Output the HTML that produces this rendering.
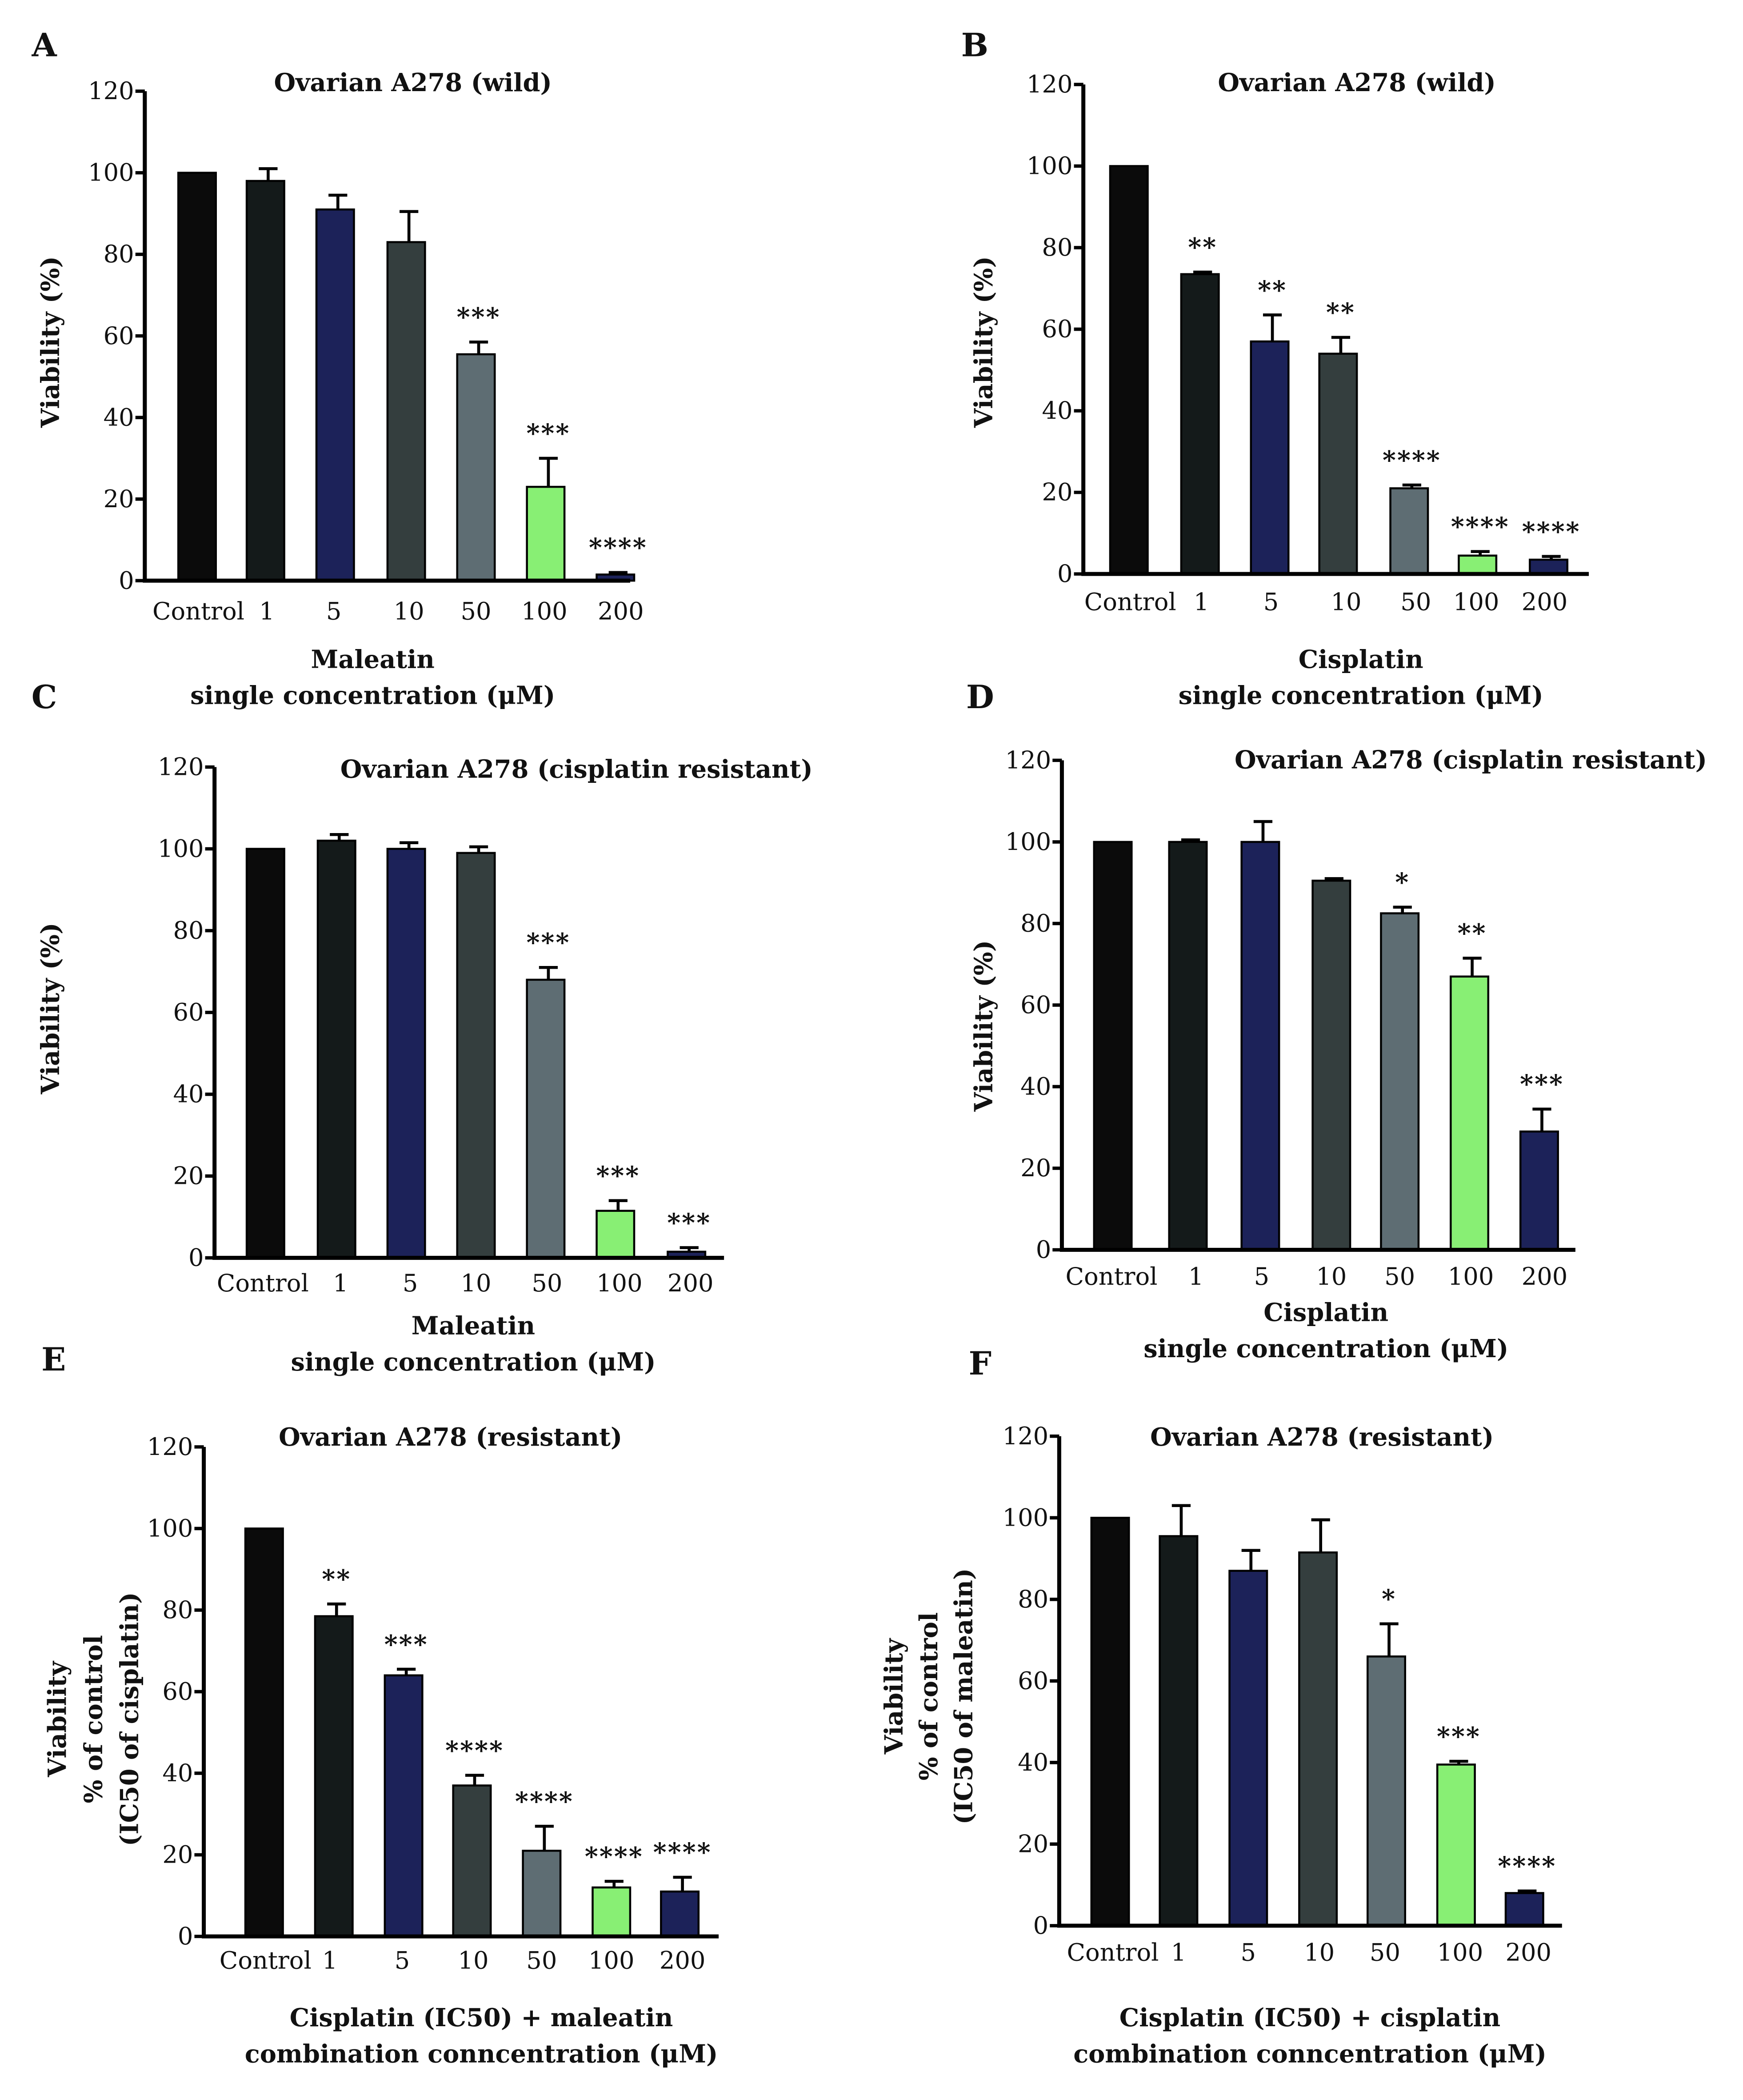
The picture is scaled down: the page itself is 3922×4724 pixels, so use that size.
<!DOCTYPE html>
<html><head><meta charset="utf-8"><style>
html,body{margin:0;padding:0;background:#fff}
svg{display:block}
text{font-family:"DejaVu Serif","Liberation Serif",serif;fill:#111}
.t{font-weight:bold;font-size:18.5px}
.tk{font-size:18px}
.lt{font-weight:bold;font-size:24px}
</style></head><body>
<svg id="fig" width="3922" height="4724" viewBox="0 0 1300 1566" preserveAspectRatio="none" xmlns="http://www.w3.org/2000/svg"></svg>
<script>
const categories=["Control","1","5","10","50","100","200"];
const colors=["#0b0b0b","#141a1a","#1c2259","#343e3e","#5e6d73","#88ef74","#1c2259"];
const valuesA=[100,98,91,83,55.5,23,1.5]; const errA=[0,3,3.5,7.5,3,7,0.5]; const starsA=["","","","","***","***","****"];
const valuesB=[100,73.5,57,54,21,4.5,3.5]; const errB=[0,0.5,6.5,4,0.8,1,0.8]; const starsB=["","**","**","**","****","****","****"];
const valuesC=[100,102,100,99,68,11.5,1.5]; const errC=[0,1.5,1.5,1.5,3,2.5,1]; const starsC=["","","","","***","***","***"];
const valuesD=[100,100,100,90.5,82.5,67,29]; const errD=[0,0.5,5,0.5,1.5,4.5,5.5]; const starsD=["","","","","*","**","***"];
const valuesE=[100,78.5,64,37,21,12,11]; const errE=[0,3,1.5,2.5,6,1.5,3.5]; const starsE=["","**","***","****","****","****","****"];
const valuesF=[100,95.5,87,91.5,66,39.5,8]; const errF=[0,7.5,5,8,8,0.8,0.5]; const starsF=["","","","","*","***","****"];
const yTicks=[0,20,40,60,80,100,120];

const NS="http://www.w3.org/2000/svg";
const svg=document.getElementById('fig');
function mk(tag,attrs,parent,txt){const e=document.createElementNS(NS,tag);for(const k in attrs)e.setAttribute(k,attrs[k]);if(txt!==undefined)e.textContent=txt;(parent||svg).appendChild(e);return e;}

const panels=[
 {id:'a',letter:'A',lx:33,ly:42,vals:valuesA,err:errA,stars:starsA,y0:433,y120:68,ax:108,axEnd:470,bx:[147,198,250,303,355,407,459],lbx:[148,199,249,305,355,406,463],lby:462,
  title:"Ovarian A278 (wild)",tx:308,ty:68,xl:["Maleatin","single concentration (μM)"],xlx:278,xly:[498,525],yl:["Viability (%)"],ylx:[44],yly:255},
 {id:'b',letter:'B',lx:727,ly:42,vals:valuesB,err:errB,stars:starsB,y0:428,y120:63,ax:808,axEnd:1185,bx:[842,895,947,998,1051,1102,1155],lbx:[843,896,948,1004,1056,1101,1152],lby:455,
  title:"Ovarian A278 (wild)",tx:1012,ty:68,xl:["Cisplatin","single concentration (μM)"],xlx:1015,xly:[498,525],yl:["Viability (%)"],ylx:[740],yly:255},
 {id:'c',letter:'C',lx:33,ly:528,vals:valuesC,err:errC,stars:starsC,y0:938,y120:572,ax:160,axEnd:540,bx:[198,251,303,355,407,459,512],lbx:[196,254,306,355,408,462,515],lby:963,
  title:"Ovarian A278 (cisplatin resistant)",tx:430,ty:580,xl:["Maleatin","single concentration (μM)"],xlx:353,xly:[995,1022],yl:["Viability (%)"],ylx:[44],yly:752},
 {id:'d',letter:'D',lx:731,ly:528,vals:valuesD,err:errD,stars:starsD,y0:932,y120:567,ax:792,axEnd:1175,bx:[830,886,940,993,1044,1096,1148],lbx:[829,892,941,993,1044,1097,1152],lby:958,
  title:"Ovarian A278 (cisplatin resistant)",tx:1097,ty:573,xl:["Cisplatin","single concentration (μM)"],xlx:989,xly:[985,1012],yl:["Viability (%)"],ylx:[740],yly:765},
 {id:'e',letter:'E',lx:40,ly:1022,vals:valuesE,err:errE,stars:starsE,y0:1444,y120:1079,ax:152,axEnd:536,bx:[197,249,301,352,404,456,507],lbx:[198,246,300,353,404,456,509],lby:1468,
  title:"Ovarian A278 (resistant)",tx:336,ty:1078,xl:["Cisplatin (IC50) + maleatin","combination conncentration (μM)"],xlx:359,xly:[1511,1538],yl:["Viability","% of control","(IC50 of cisplatin)"],ylx:[49,76,103],yly:1282},
 {id:'f',letter:'F',lx:731,ly:1025,vals:valuesF,err:errF,stars:starsF,y0:1436,y120:1071,ax:790,axEnd:1165,bx:[828,879,931,983,1034,1086,1137],lbx:[830,879,931,984,1033,1089,1140],lby:1462,
  title:"Ovarian A278 (resistant)",tx:986,ty:1078,xl:["Cisplatin (IC50) + cisplatin","combination conncentration (μM)"],xlx:977,xly:[1511,1538],yl:["Viability","% of control","(IC50 of maleatin)"],ylx:[673,699,725],yly:1265}
];

panels.forEach(p=>{
  const g=mk('g',{});
  
  
  const yS=v=>p.y0+(p.y120-p.y0)*v/120;
  const L=mk('text',{x:p.lx,y:p.ly,'text-anchor':'middle','class':'lt'},g,p.letter);
  
  
  const T=mk('text',{x:p.tx,y:p.ty,'text-anchor':'middle','class':'t'},g,p.title);
  
  
  p.vals.forEach((v,i)=>{
    const cx=p.bx[i],w=28;
    const top=yS(v);
    const r=mk('rect',{x:cx-w/2,y:top,width:w,height:p.y0-top,fill:colors[i],stroke:'#000','stroke-width':1.5},g);
    
    
    const e=p.err[i];
    let etop=top;
    if(e>0){
      etop=yS(v+e);
      const eb=mk('path',{d:`M${cx+2} ${top}V${etop}M${cx-5} ${etop}H${cx+9}`,stroke:'#000','stroke-width':2.2,fill:'none'},g);
      
      
    }
    if(p.stars[i]){
      const s=mk('text',{x:cx+2,y:etop-12,'text-anchor':'middle','font-size':'19px','font-weight':'bold','letter-spacing':'1'},g,p.stars[i]);
      
      
    }
    const lb=mk('text',{x:p.lbx[i],y:p.lby,'text-anchor':'middle','class':'tk'},g,categories[i]);
    
    
  });
  const ax=mk('path',{d:`M${p.ax} ${p.y120}V${p.y0}H${p.axEnd}`,stroke:'#000','stroke-width':3,fill:'none'},g);
  
  
  yTicks.forEach(t=>{
    const y=yS(t);
    mk('line',{x1:p.ax-7,x2:p.ax,y1:y,y2:y,stroke:'#000','stroke-width':2.5},g);
    const tl=mk('text',{x:p.ax-8,y:y+6,'text-anchor':'end','class':'tk'},g,String(t));
    
    
  });
  p.xl.forEach((s,k)=>{
    const xt=mk('text',{x:p.xlx,y:p.xly[k],'text-anchor':'middle','class':'t'},g,s);
    
    
  });
  p.yl.forEach((s,k)=>{
    const yt=mk('text',{x:p.ylx[k],y:p.yly,'text-anchor':'middle','class':'t',transform:`rotate(-90 ${p.ylx[k]} ${p.yly})`},g,s);
    
    
  });
});
</script>
</body></html>
